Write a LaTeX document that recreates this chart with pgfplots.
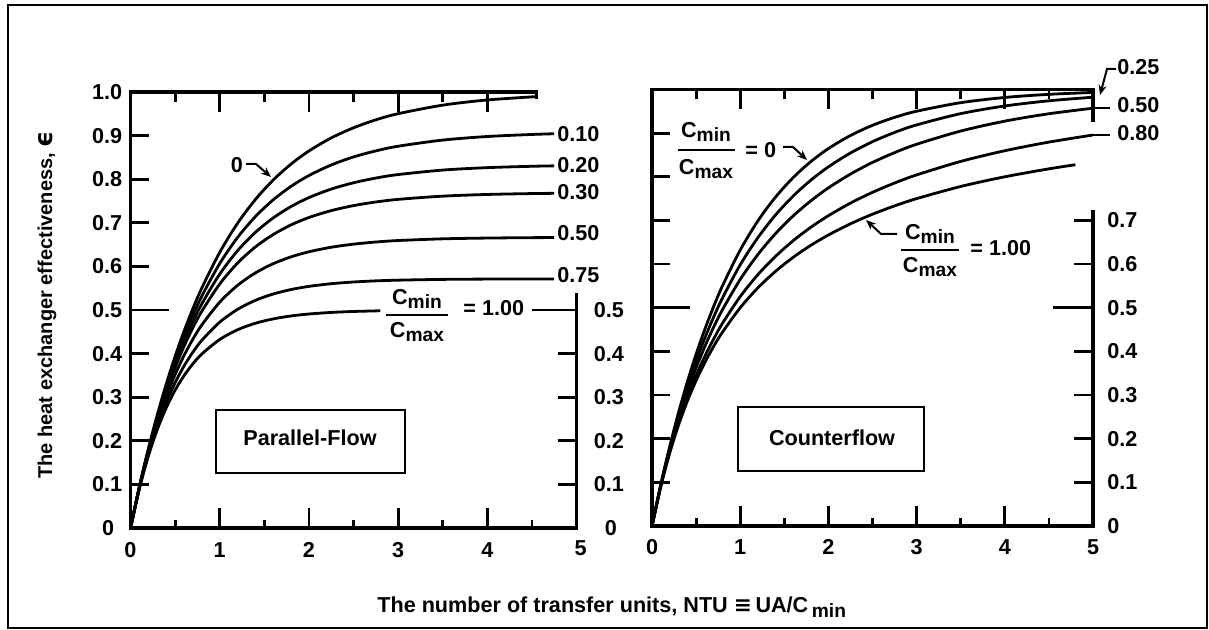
\documentclass[border=0pt]{standalone}
\usepackage{fontspec}
\setmainfont{Liberation Sans}
\newfontfamily\dejavu{DejaVu Sans}
\usepackage{pgfplots}
\pgfplotsset{compat=1.18}
\usetikzlibrary{arrows.meta}

\newcommand{\sub}[1]{\raisebox{-0.4ex}{\fontsize{9.6}{10}\selectfont #1}}
\tikzset{
  frame/.style={line width=1.8pt, line cap=rect},
  tk/.style={line width=1.4pt},
  cv/.style={black, solid, line width=1.4pt, smooth, mark=none},
  lab/.style={font=\fontsize{10.8}{12}\selectfont\bfseries, inner sep=0pt},
  lead/.style={line width=1pt, -{Stealth[length=5pt,width=4pt]}},
}
\pgfplotsset{
  panel/.style={scale only axis, hide axis, xmin=0, xmax=5, ymin=0, ymax=1,
    clip=false, anchor=south west},
}

\begin{document}
% 1 px of the reference = 0.5pt, y measured from the bottom
\begin{tikzpicture}[x=0.5pt, y=0.5pt]
\path (0,0) rectangle (1209,630);
\draw[line width=1pt] (8,2) rectangle (1207,625);

% ---------------- parallel flow ----------------
\begin{axis}[panel, at={(65.25pt,51pt)}, width=223pt, height=218pt]
% Cmin/Cmax = 0
\addplot[cv] coordinates {(0,0) (0.1,0.0952) (0.2,0.1813) (0.3,0.2592) (0.4,0.3297) (0.5,0.3935) (0.6,0.4512) (0.7,0.5034) (0.8,0.5507) (1.0,0.6321) (1.2,0.6988) (1.4,0.7534) (1.6,0.7981) (1.8,0.8347) (2.0,0.8647) (2.25,0.8946) (2.5,0.9179) (2.75,0.9361) (3.0,0.9502) (3.5,0.9698) (4.0,0.9817) (4.55,0.9894)};
% 0.10
\addplot[cv] coordinates {(0,0) (0.1,0.0947) (0.2,0.1795) (0.3,0.2555) (0.4,0.3236) (0.5,0.3846) (0.6,0.4392) (0.7,0.4882) (0.8,0.5320) (1.0,0.6065) (1.2,0.6663) (1.4,0.7142) (1.6,0.7527) (1.8,0.7836) (2.0,0.8084) (2.25,0.8326) (2.5,0.8510) (2.75,0.8649) (3.0,0.8756) (3.5,0.8897) (4.0,0.8979) (4.5,0.9026) (4.75,0.9042)};
% 0.20
\addplot[cv] coordinates {(0,0) (0.1,0.0942) (0.2,0.1778) (0.3,0.2519) (0.4,0.3177) (0.5,0.3760) (0.6,0.4277) (0.7,0.4736) (0.8,0.5143) (1.0,0.5823) (1.2,0.6359) (1.4,0.6780) (1.6,0.7112) (1.8,0.7373) (2.0,0.7578) (2.25,0.7773) (2.5,0.7918) (2.75,0.8026) (3.0,0.8106) (3.5,0.8209) (4.0,0.8265) (4.5,0.8296) (4.75,0.8306)};
% 0.30
\addplot[cv] coordinates {(0,0) (0.1,0.0938) (0.2,0.1761) (0.3,0.2484) (0.4,0.3119) (0.5,0.3677) (0.6,0.4166) (0.7,0.4596) (0.8,0.4973) (1.0,0.5596) (1.2,0.6076) (1.4,0.6446) (1.6,0.6731) (1.8,0.6952) (2.0,0.7121) (2.25,0.7279) (2.5,0.7394) (2.75,0.7477) (3.0,0.7537) (3.5,0.7611) (4.0,0.7650) (4.5,0.7670) (4.75,0.7676)};
% 0.50
\addplot[cv] coordinates {(0,0) (0.1,0.0929) (0.2,0.1728) (0.3,0.2416) (0.4,0.3008) (0.5,0.3517) (0.6,0.3956) (0.7,0.4334) (0.8,0.4659) (1.0,0.5179) (1.2,0.5565) (1.4,0.5850) (1.6,0.6062) (1.8,0.6219) (2.0,0.6335) (2.25,0.6439) (2.5,0.6510) (2.75,0.6559) (3.0,0.6593) (3.5,0.6632) (4.0,0.6650) (4.5,0.6659) (4.75,0.6661)};
% 0.75
\addplot[cv] coordinates {(0,0) (0.1,0.0917) (0.2,0.1687) (0.3,0.2334) (0.4,0.2877) (0.5,0.3332) (0.6,0.3715) (0.7,0.4035) (0.8,0.4305) (1.0,0.4721) (1.2,0.5014) (1.4,0.5221) (1.6,0.5367) (1.8,0.5469) (2.0,0.5542) (2.25,0.5603) (2.5,0.5642) (2.75,0.5668) (3.0,0.5684) (3.5,0.5702) (4.0,0.5709) (4.5,0.5712) (4.75,0.5713)};
% 1.00
\addplot[cv] coordinates {(0,0) (0.1,0.0906) (0.2,0.1648) (0.3,0.2256) (0.4,0.2753) (0.5,0.3161) (0.6,0.3494) (0.7,0.3767) (0.8,0.3991) (1.0,0.4323) (1.2,0.4546) (1.4,0.4696) (1.6,0.4796) (1.8,0.4863) (2.0,0.4908) (2.25,0.4944) (2.5,0.4966) (2.8,0.4982)};

\draw[frame] (axis cs:4.55,1) -- (axis cs:0,1) -- (axis cs:0,0) -- (axis cs:5,0) -- (axis cs:5,0.535);
\draw[tk] (axis cs:4.55,1) -- (axis cs:4.55,0.985);
\pgfplotsinvokeforeach{1,2,3,4}{\draw[tk] (axis cs:#1,0) -- ++(0,10pt); \draw[tk] (axis cs:#1,1) -- ++(0,-10pt);}
\pgfplotsinvokeforeach{0.5,1.5,2.5,3.5,4.5}{\draw[tk] (axis cs:#1,0) -- ++(0,4pt);}
\pgfplotsinvokeforeach{0.5,1.5,2.5,3.5}{\draw[tk] (axis cs:#1,1) -- ++(0,-5pt);}
\pgfplotsinvokeforeach{0.1,0.2,0.3,0.4,0.6,0.7,0.8,0.9}{\draw[tk] (axis cs:0,#1) -- ++(9pt,0);}
\draw[tk] (axis cs:0,0.5) -- ++(19pt,0);
\pgfplotsinvokeforeach{0.1,0.2,0.3,0.4}{\draw[tk] (axis cs:5,#1) -- ++(-9.5pt,0);}
\pgfplotsinvokeforeach{0.1,0.2,0.3,0.4,0.5,0.6,0.7,0.8,0.9,1.0}{\node[lab,anchor=east,xshift=-4pt] at (axis cs:0,#1) {#1};}
\node[lab,anchor=east,xshift=-8pt] at (axis cs:0,0) {0};
\pgfplotsinvokeforeach{0.1,0.2,0.3,0.4,0.5}{\node[lab,anchor=west,xshift=8.5pt] at (axis cs:5,#1) {#1};}
\node[lab,anchor=west,xshift=14pt] at (axis cs:5,0) {0};
\pgfplotsinvokeforeach{0,1,2,3,4}{\node[lab,anchor=north,yshift=-7pt] at (axis cs:#1,0) {#1};}
\node[lab,anchor=north,yshift=-6pt,xshift=2pt] at (axis cs:5,0) {5};
\end{axis}

% ---------------- counterflow ----------------
\begin{axis}[panel, at={(326pt,52pt)}, width=220.5pt, height=218.25pt]
% 0
\addplot[cv] coordinates {(0,0) (0.1,0.0952) (0.2,0.1813) (0.3,0.2592) (0.4,0.3297) (0.5,0.3935) (0.6,0.4512) (0.7,0.5034) (0.8,0.5507) (1.0,0.6321) (1.2,0.6988) (1.4,0.7534) (1.6,0.7981) (1.8,0.8347) (2.0,0.8647) (2.25,0.8946) (2.5,0.9179) (2.75,0.9361) (3.0,0.9502) (3.5,0.9698) (4.0,0.9817) (4.5,0.9889) (5.0,0.9933)};
% 0.25
\addplot[cv] coordinates {(0,0) (0.1,0.0941) (0.2,0.1775) (0.3,0.2517) (0.4,0.3181) (0.5,0.3776) (0.6,0.4311) (0.7,0.4793) (0.8,0.5229) (1.0,0.5983) (1.2,0.6605) (1.4,0.7124) (1.6,0.7557) (1.8,0.7921) (2.0,0.8228) (2.25,0.8545) (2.5,0.8804) (2.75,0.9016) (3.0,0.9188) (3.5,0.9447) (4.0,0.9622) (4.5,0.9741) (5.0,0.9823)};
% 0.50
\addplot[cv] coordinates {(0,0) (0.1,0.0931) (0.2,0.1738) (0.3,0.2446) (0.4,0.3070) (0.5,0.3623) (0.6,0.4117) (0.7,0.4560) (0.8,0.4959) (1.0,0.5648) (1.2,0.6218) (1.4,0.6697) (1.6,0.7103) (1.8,0.7448) (2.0,0.7746) (2.25,0.8062) (2.5,0.8329) (2.75,0.8553) (3.0,0.8745) (3.5,0.9048) (4.0,0.9275) (4.5,0.9444) (5.0,0.9571)};
% 0.80
\addplot[cv] coordinates {(0,0) (0.1,0.0918) (0.2,0.1694) (0.3,0.2360) (0.4,0.2941) (0.5,0.3447) (0.6,0.3893) (0.7,0.4289) (0.8,0.4647) (1.0,0.5255) (1.2,0.5757) (1.4,0.6176) (1.6,0.6535) (1.8,0.6843) (2.0,0.7109) (2.25,0.7397) (2.5,0.7644) (2.75,0.7857) (3.0,0.8043) (3.5,0.8352) (4.0,0.8597) (4.5,0.8795) (5.0,0.8957)};
% 1.00
\addplot[cv] coordinates {(0,0) (0.1,0.0909) (0.2,0.1667) (0.3,0.2308) (0.4,0.2857) (0.5,0.3333) (0.6,0.3750) (0.7,0.4118) (0.8,0.4444) (1.0,0.5000) (1.2,0.5455) (1.4,0.5833) (1.6,0.6154) (1.8,0.6429) (2.0,0.6667) (2.25,0.6923) (2.5,0.7143) (2.75,0.7333) (3.0,0.7500) (3.5,0.7778) (4.0,0.8000) (4.5,0.8182) (4.8,0.8276)};

\draw[frame] (axis cs:5,0.93) -- (axis cs:5,1) -- (axis cs:0,1) -- (axis cs:0,0) -- (axis cs:5,0) -- (axis cs:5,0.72);
\pgfplotsinvokeforeach{1,2,3,4}{\draw[tk] (axis cs:#1,0) -- ++(0,10pt); \draw[tk] (axis cs:#1,1) -- ++(0,-10pt);}
\pgfplotsinvokeforeach{0.5,1.5,2.5,3.5,4.5}{\draw[tk] (axis cs:#1,0) -- ++(0,4pt); \draw[tk] (axis cs:#1,1) -- ++(0,-5pt);}
\pgfplotsinvokeforeach{0.1,0.2,0.3,0.4,0.6,0.7,0.8,0.9}{\draw[tk] (axis cs:0,#1) -- ++(9pt,0);}
\draw[tk] (axis cs:0,0.5) -- ++(19pt,0);
\pgfplotsinvokeforeach{0.1,0.2,0.3,0.4,0.6,0.7}{\draw[tk] (axis cs:5,#1) -- ++(-9.5pt,0);}
\draw[tk] (axis cs:5,0.5) -- ++(-20pt,0);
\pgfplotsinvokeforeach{0,0.1,0.2,0.3,0.4,0.5,0.6,0.7}{\node[lab,anchor=west,xshift=7pt] at (axis cs:5,#1) {#1};}
\pgfplotsinvokeforeach{0,1,2,3,4,5}{\node[lab,anchor=north,yshift=-6.5pt] at (axis cs:#1,0) {#1};}
\end{axis}

% ---------------- annotations (reference pixels) ----------------
% parallel flow
\node[lab] at (237,465) {0};
\draw[lead] (246,466) -- (256,466) -- (271,453);
\node[lab,anchor=west] at (557,496) {0.10};
\node[lab,anchor=west] at (557,465) {0.20};
\node[lab,anchor=west] at (557,438) {0.30};
\node[lab,anchor=west] at (557,397) {0.50};
\node[lab,anchor=west] at (557,355) {0.75};
\node[lab] at (417,331) {C\sub{min}};
\draw[line width=1.1pt] (386,315) -- (448,315);
\node[lab] at (417,298) {C\sub{max}};
\node[lab,anchor=west] at (463,322) {= 1.00};
\draw[tk] (532,320) -- (576.5,320);
\draw[line width=1pt] (215.5,157) rectangle (404.5,220);
\node[lab] at (310,192) {Parallel-Flow};

% counterflow
\node[lab] at (706,498) {C\sub{min}};
\draw[line width=1.1pt] (678,480) -- (735,480);
\node[lab] at (706,461) {C\sub{max}};
\node[lab,anchor=west] at (745,480) {= 0};
\draw[lead] (783,483) -- (793,483) -- (807,470);
\node[lab] at (930,396) {C\sub{min}};
\draw[line width=1.1pt] (901,380) -- (959,380);
\node[lab] at (930,363) {C\sub{max}};
\node[lab,anchor=west] at (970,382) {= 1.00};
\draw[lead] (897,396) -- (881,396) -- (866,410);
\node[lab,anchor=west] at (1117,563) {0.25};
\draw[lead] (1116,561) -- (1107,561) -- (1100,535);
\node[lab,anchor=west] at (1117,525) {0.50};
\draw[tk] (1093,522) -- (1110,522);
\node[lab,anchor=west] at (1117,497) {0.80};
\draw[tk] (1093,495) -- (1110,495);
\draw[line width=1pt] (738,159) rectangle (924,223);
\node[lab] at (832,192) {Counterflow};

% axis titles
\node[font=\fontsize{10}{12}\selectfont\bfseries, inner sep=0pt, rotate=90] at (47,325) {The heat exchanger effectiveness, {\dejavu\fontsize{12.5}{12}\selectfont ϵ}};
\node[lab,anchor=west] at (377,23) {The number of transfer units, NTU\;{\dejavu ≡}\,UA/C\,\sub{min}};
\end{tikzpicture}
\end{document}
